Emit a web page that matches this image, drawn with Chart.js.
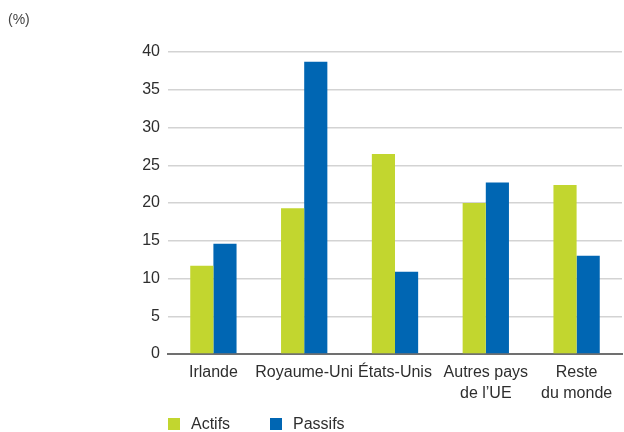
<!DOCTYPE html>
<html>
<head>
<meta charset="utf-8">
<script src="https://cdn.jsdelivr.net/npm/chart.js@4/dist/chart.umd.min.js"></script>
<style>
  html, body { margin: 0; padding: 0; background: #ffffff; }
  #wrap { width: 624px; height: 432px; position: relative; }
</style>
</head>
<body>
<div id="wrap"><canvas id="c" width="624" height="432"></canvas></div>
<script>
const categories = ["Irlande", "Royaume-Uni", "États-Unis", ["Autres pays", "de l’UE"], ["Reste", "du monde"]];
const actifs = [11.7, 19.3, 26.5, 20.0, 22.4];
const passifs = [14.6, 38.7, 10.9, 22.7, 13.0];
const seriesNames = ["Actifs", "Passifs"];
const yTicks = [0, 5, 10, 15, 20, 25, 30, 35, 40];
const unitLabel = "(%)";

const FONT = "'Liberation Sans', Arial, Helvetica, sans-serif";
const GREEN = "#c2d62f";
const BLUE = "#0066b3";
const TEXT = "#2e2e2e";

const extras = {
  id: "extras",
  afterDraw(chart) {
    const ctx = chart.ctx;
    const ca = chart.chartArea;
    ctx.save();
    ctx.fillStyle = "#444444";
    ctx.font = "14px " + FONT;
    ctx.textBaseline = "middle";
    ctx.textAlign = "left";
    ctx.fillText(unitLabel, 8, 20);
    // legend
    const colors = [GREEN, BLUE];
    const xs = [ca.left, ca.left + 102];
    const y = 424;
    ctx.font = "16px " + FONT;
    for (let i = 0; i < seriesNames.length; i++) {
      ctx.fillStyle = colors[i];
      ctx.fillRect(xs[i], y - 6, 12, 12);
      ctx.fillStyle = TEXT;
      ctx.fillText(seriesNames[i], xs[i] + 23, y + 1);
    }
    ctx.restore();
  }
};

new Chart(document.getElementById("c"), {
  type: "bar",
  data: {
    labels: categories,
    datasets: [
      { label: seriesNames[0], data: actifs, backgroundColor: GREEN, borderWidth: 0 },
      { label: seriesNames[1], data: passifs, backgroundColor: BLUE, borderWidth: 0 }
    ]
  },
  options: {
    responsive: false,
    animation: false,
    devicePixelRatio: 1,
    layout: { padding: { top: 52, right: 2, bottom: 28, left: 0 } },
    datasets: { bar: { categoryPercentage: 0.51, barPercentage: 1.0 } },
    plugins: { legend: { display: false }, tooltip: { enabled: false } },
    scales: {
      x: {
        grid: { display: false, drawTicks: false },
        border: { display: true, color: "#707070", width: 2 },
        ticks: { color: TEXT, font: { family: FONT, size: 16, lineHeight: 1.3 }, padding: 8, maxRotation: 0, autoSkip: false },
        afterFit(s) { s.height = 50; }
      },
      y: {
        min: 0, max: 40,
        afterBuildTicks(s) { s.ticks = yTicks.map(v => ({ value: v })); },
        grid: { color: "#d3d3d3", lineWidth: 1.5, drawTicks: false },
        border: { display: false },
        ticks: { color: TEXT, font: { family: FONT, size: 16 }, padding: 8 },
        afterFit(s) { s.width = 168; }
      }
    }
  },
  plugins: [extras]
});
</script>
</body>
</html>
